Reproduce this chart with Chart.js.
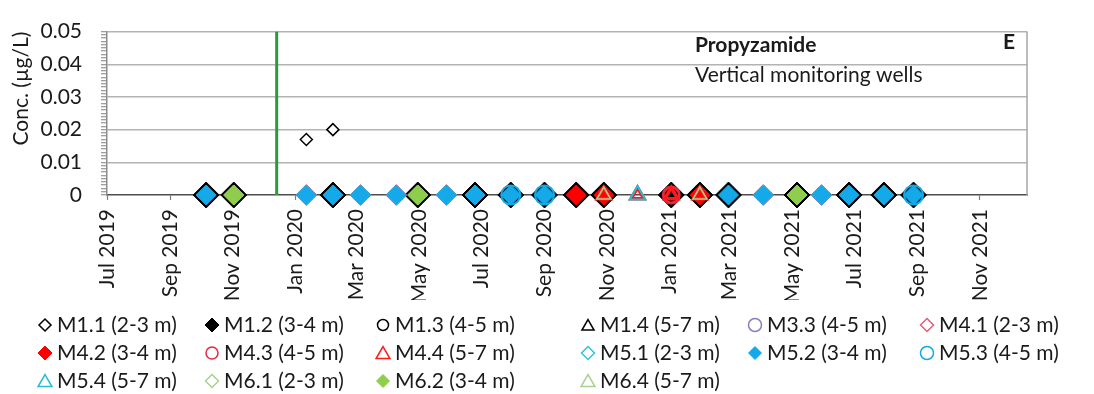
<!DOCTYPE html>
<html>
<head>
<meta charset="utf-8">
<script src="https://cdn.jsdelivr.net/npm/chart.js@4.4.1/dist/chart.umd.min.js"></script>
<style>
  html, body { margin: 0; padding: 0; background: #ffffff; }
  canvas { display: block; }
</style>
</head>
<body>
<canvas id="chart" width="1094" height="394"></canvas>
<script>
// ---- axis ranges and tick labels ----
const axisStart = '2019-07-01';
const axisEnd = '2021-12-17';
const xTickDates = ['2019-07-01', '2019-09-01', '2019-11-01', '2020-01-01', '2020-03-01', '2020-05-01',
  '2020-07-01', '2020-09-01', '2020-11-01', '2021-01-01', '2021-03-01', '2021-05-01', '2021-07-01',
  '2021-09-01', '2021-11-01'];
const xTickLabels = ['Jul 2019', 'Sep 2019', 'Nov 2019', 'Jan 2020', 'Mar 2020', 'May 2020', 'Jul 2020',
  'Sep 2020', 'Nov 2020', 'Jan 2021', 'Mar 2021', 'May 2021', 'Jul 2021', 'Sep 2021', 'Nov 2021'];
const yTickLabels = ['0', '0.01', '0.02', '0.03', '0.04', '0.05'];
const yMax = 0.05;

// date of the vertical reference line
const referenceDate = '2019-12-14';

// ---- measured concentrations (µg/L) per well: [sampling date, value] ----
const m11 = [['2020-01-12', 0.017], ['2020-02-07', 0.020]];
const m12 = [['2019-10-06', 0], ['2019-11-02', 0], ['2020-02-07', 0], ['2020-04-30', 0], ['2020-06-25', 0],
  ['2020-07-30', 0], ['2020-09-01', 0], ['2020-10-02', 0], ['2020-10-29', 0], ['2021-01-03', 0],
  ['2021-01-31', 0], ['2021-02-28', 0], ['2021-05-06', 0], ['2021-06-26', 0], ['2021-07-30', 0],
  ['2021-08-28', 0]];
const m13 = [['2021-01-03', 0]];
const m14 = [['2020-10-29', 0], ['2021-01-31', 0]];
const m33 = [['2020-10-29', 0]];
const m41 = [['2020-01-12', 0], ['2020-03-05', 0], ['2020-04-09', 0], ['2020-05-28', 0], ['2021-04-03', 0],
  ['2021-05-30', 0]];
const m42 = [['2020-10-02', 0], ['2020-10-29', 0], ['2021-01-31', 0]];
const m43 = [['2021-01-03', 0]];
const m44 = [['2020-10-29', 0], ['2020-12-01', 0], ['2021-01-03', 0], ['2021-01-31', 0]];
const m51 = [['2020-03-05', 0], ['2020-05-28', 0]];
const m52 = [['2019-10-06', 0], ['2020-01-12', 0], ['2020-02-07', 0], ['2020-03-05', 0], ['2020-04-09', 0],
  ['2020-05-28', 0], ['2020-06-25', 0], ['2020-07-30', 0], ['2020-09-01', 0], ['2021-02-28', 0],
  ['2021-04-03', 0], ['2021-05-30', 0], ['2021-06-26', 0], ['2021-07-30', 0], ['2021-08-28', 0]];
const m53 = [['2020-07-30', 0], ['2020-09-01', 0], ['2021-08-28', 0]];
const m54 = [['2020-12-01', 0]];
const m61 = [['2019-11-02', 0], ['2020-04-30', 0], ['2021-05-06', 0]];
const m62 = [['2019-11-02', 0], ['2020-04-30', 0], ['2021-05-06', 0]];
const m64 = [['2020-10-29', 0], ['2021-01-31', 0]];

const seriesData = [m11, m12, m13, m14, m33, m41, m42, m43, m44, m51, m52, m53, m54, m61, m62, m64];
const seriesLabels = ['M1.1 (2-3 m)', 'M1.2 (3-4 m)', 'M1.3 (4-5 m)', 'M1.4 (5-7 m)', 'M3.3 (4-5 m)',
  'M4.1 (2-3 m)', 'M4.2 (3-4 m)', 'M4.3 (4-5 m)', 'M4.4 (5-7 m)', 'M5.1 (2-3 m)', 'M5.2 (3-4 m)',
  'M5.3 (4-5 m)', 'M5.4 (5-7 m)', 'M6.1 (2-3 m)', 'M6.2 (3-4 m)', 'M6.4 (5-7 m)'];

// marker styles: shape, plot radius, fill, outline, outline width, legend radius
const NONE = 'rgba(0,0,0,0)';
const seriesStyles = [
  { shape: 'rectRot',  r: 6,   fill: '#ffffff', line: '#000000', lw: 1.5, lr: 6 },
  { shape: 'rectRot',  r: 13,  fill: '#000000', line: '#000000', lw: 1,   lr: 7 },
  { shape: 'circle',   r: 5,   fill: NONE,      line: '#000000', lw: 2,   lr: 5.5 },
  { shape: 'triangle', r: 7,   fill: NONE,      line: '#000000', lw: 1.5, lr: 7 },
  { shape: 'circle',   r: 6,   fill: NONE,      line: '#8e7cc3', lw: 1.5, lr: 6.5 },
  { shape: 'rectRot',  r: 10.5,fill: NONE,      line: '#e0607a', lw: 1,   lr: 6.5 },
  { shape: 'rectRot',  r: 10,  fill: '#ff0000', line: '#ff0000', lw: 1,   lr: 7 },
  { shape: 'circle',   r: 8,   fill: NONE,      line: '#e8283c', lw: 3,   lr: 6 },
  { shape: 'triangle', r: 7.5, fill: NONE,      line: '#ff1a1a', lw: 3.5, lr: 8 },
  { shape: 'rectRot',  r: 10,  fill: NONE,      line: '#33c3e0', lw: 1,   lr: 6.5 },
  { shape: 'rectRot',  r: 10,  fill: '#14a9e8', line: '#14a9e8', lw: 1,   lr: 6.5 },
  { shape: 'circle',   r: 9.5, fill: NONE,      line: '#14a9e8', lw: 2,   lr: 6.5 },
  { shape: 'triangle', r: 9,   fill: NONE,      line: '#27bcd8', lw: 2,   lr: 8 },
  { shape: 'rectRot',  r: 10,  fill: NONE,      line: '#a9d18e', lw: 1,   lr: 6.5 },
  { shape: 'rectRot',  r: 10,  fill: '#8fcd4c', line: '#8fcd4c', lw: 1,   lr: 6.5 },
  { shape: 'triangle', r: 8,   fill: NONE,      line: '#a9d18e', lw: 1.5, lr: 8 }
];

// ---- helpers ----
const FONT = 'Lato, "Open Sans", sans-serif';
const TEXT = '#1a1a1a';
const baseUTC = (() => { const [y, m, d] = axisStart.split('-').map(Number); return Date.UTC(y, m - 1, d); })();
function dayOf(s) {
  const [y, m, d] = s.split('-').map(Number);
  return Math.round((Date.UTC(y, m - 1, d) - baseUTC) / 86400000);
}

function markerPath(ctx, shape, x, y, r) {
  ctx.beginPath();
  if (shape === 'circle') {
    ctx.arc(x, y, r, 0, Math.PI * 2);
  } else if (shape === 'triangle') {
    ctx.moveTo(x, y - r);
    ctx.lineTo(x + r * Math.sin(2 * Math.PI / 3), y - r * Math.cos(2 * Math.PI / 3));
    ctx.lineTo(x + r * Math.sin(4 * Math.PI / 3), y - r * Math.cos(4 * Math.PI / 3));
    ctx.closePath();
  } else {
    ctx.moveTo(x, y - r);
    ctx.lineTo(x + r, y);
    ctx.lineTo(x, y + r);
    ctx.lineTo(x - r, y);
    ctx.closePath();
  }
}

// ---- datasets ----
const N = seriesData.length;
const datasets = seriesData.map((pts, i) => {
  const s = seriesStyles[i];
  return {
    label: seriesLabels[i],
    data: pts.map(([d, v]) => ({ x: dayOf(d), y: v })),
    pointStyle: s.shape,
    pointRadius: s.r,
    pointHoverRadius: s.r,
    pointBackgroundColor: s.fill,
    pointBorderColor: s.line,
    pointBorderWidth: s.lw,
    showLine: false,
    clip: false,
    order: N - i
  };
});
datasets.push({
  label: 'reference',
  data: [{ x: dayOf(referenceDate), y: 0 }, { x: dayOf(referenceDate), y: yMax }],
  showLine: true,
  borderColor: '#2b9a3c',
  borderWidth: 3,
  pointRadius: 0,
  order: 1000
});

// ---- legend grid, heading text and plot frame ----
const legendCols = [45, 212, 383, 588, 755, 927];
const legendRows = [325, 353, 381];

const decorations = {
  id: 'decorations',
  beforeDatasetsDraw(chart) {
    const { ctx, chartArea: a } = chart;
    ctx.save();
    ctx.strokeStyle = '#a6a6a6';
    ctx.lineWidth = 1.5;
    ctx.beginPath();
    ctx.moveTo(a.right, a.top);
    ctx.lineTo(a.right, a.bottom);
    ctx.stroke();
    ctx.restore();
  },
  afterDraw(chart) {
    const ctx = chart.ctx;
    ctx.save();
    ctx.fillStyle = TEXT;
    ctx.textBaseline = 'middle';
    ctx.textAlign = 'left';
    ctx.font = 'bold 21px ' + FONT;
    ctx.fillText('Propyzamide', 695, 45);
    ctx.fillText('E', 1003, 42);
    ctx.font = '21px ' + FONT;
    ctx.fillText('Vertical monitoring wells', 695, 75);

    seriesLabels.forEach((label, i) => {
      const s = seriesStyles[i];
      const x = legendCols[i % 6];
      const y = legendRows[Math.floor(i / 6)];
      const my = s.shape === 'triangle' ? y + 1.5 : y;
      markerPath(ctx, s.shape, x, my, s.lr);
      ctx.fillStyle = s.fill === NONE ? '#ffffff' : s.fill;
      ctx.fill();
      ctx.strokeStyle = s.line;
      ctx.lineWidth = s.fill === NONE || i === 0 ? 1.5 : 1;
      ctx.stroke();
      ctx.fillStyle = TEXT;
      ctx.font = '21px ' + FONT;
      ctx.fillText(label, x + 12, y);
    });
    ctx.restore();
  }
};

new Chart(document.getElementById('chart'), {
  type: 'scatter',
  data: { datasets },
  options: {
    responsive: false,
    devicePixelRatio: 1,
    animation: false,
    layout: { padding: { left: 0, top: 24, right: 67, bottom: 94 } },
    plugins: { legend: { display: false }, tooltip: { enabled: false } },
    scales: {
      x: {
        type: 'linear',
        position: 'bottom',
        min: 0,
        max: dayOf(axisEnd),
        afterBuildTicks: (scale) => { scale.ticks = xTickDates.map(d => ({ value: dayOf(d) })); },
        afterFit: (scale) => { scale.height = 105; },
        ticks: {
          autoSkip: false,
          maxRotation: 90,
          minRotation: 90,
          padding: 9,
          color: TEXT,
          font: { family: FONT, size: 21 },
          callback: (v, i) => xTickLabels[i]
        },
        grid: { drawOnChartArea: false, tickLength: 5, tickColor: '#7f7f7f', tickWidth: 1.2 },
        border: { color: '#4d4d4d', width: 1.5 }
      },
      y: {
        type: 'linear',
        position: 'left',
        min: 0,
        max: yMax,
        afterBuildTicks: (scale) => {
          const t = [];
          for (let k = 0; k <= 50; k++) t.push({ value: k / 1000 });
          scale.ticks = t;
        },
        afterFit: (scale) => { scale.width = 107; },
        ticks: {
          autoSkip: false,
          padding: 19,
          color: TEXT,
          font: { family: FONT, size: 21 },
          callback: (v) => {
            const k = Math.round(v * 1000);
            return k % 10 === 0 ? yTickLabels[k / 10] : '';
          }
        },
        grid: {
          color: (c) => {
            const k = Math.round(c.tick.value * 1000);
            return (k % 10 === 0 && k !== 0) ? '#b3b3b3' : 'rgba(0,0,0,0)';
          },
          lineWidth: 1.5,
          tickLength: 6,
          tickColor: '#7f7f7f',
          tickWidth: 1
        },
        border: { color: '#8c8c8c', width: 1.5 },
        title: {
          display: true,
          text: 'Conc. (µg/L)',
          align: 'end',
          color: TEXT,
          font: { family: FONT, size: 21 },
          padding: { top: 9, bottom: 0 }
        }
      }
    }
  },
  plugins: [decorations]
});
</script>
</body>
</html>
